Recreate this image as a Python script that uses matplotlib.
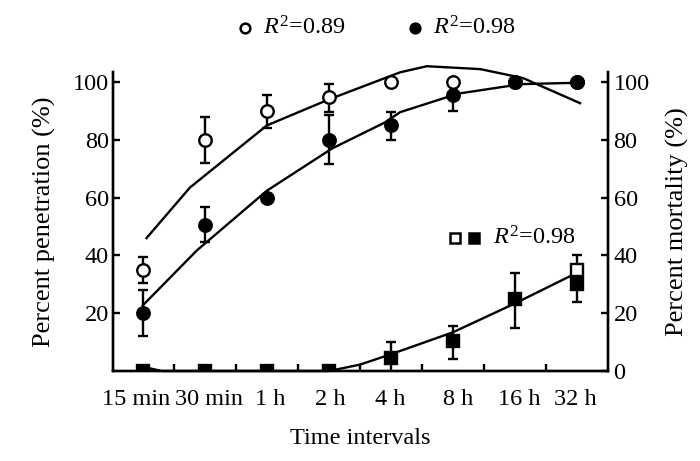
import numpy as np
import matplotlib
matplotlib.use("Agg")
import matplotlib.pyplot as plt
import matplotlib.transforms as mtransforms
from matplotlib.lines import Line2D
from matplotlib.ticker import FixedLocator

plt.rcParams['font.family'] = ['Liberation Serif', 'DejaVu Serif']
plt.rcParams['mathtext.fontset'] = 'custom'
plt.rcParams['mathtext.rm'] = 'Liberation Serif'
plt.rcParams['mathtext.it'] = 'Liberation Serif:italic'

# ---------------- data ----------------
categories = ['15 min', '30 min', '1 h', '2 h', '4 h', '8 h', '16 h', '32 h']

# open circles: percent penetration
pen_vals = [35, 80, 90, 95, 100, 100, 100, 100]
pen_err_lo = [4.7, 8, 6, 5.5, 0, 0, 0, 0]
pen_err_hi = [4.3, 8, 5.5, 4.5, 0, 0, 0, 0]

# filled circles: percent mortality
mort_vals = [20, 50.7, 60, 80, 85, 95.5, 100, 100]
mort_err_lo = [8, 6, 0, 8.5, 5, 5.5, 0, 0]
mort_err_hi = [8, 6, 0, 8.5, 4.6, 0, 0, 0]

# filled squares
sq_vals = [0, 0, 0, 0, 4.5, 10.5, 25, 30]
sq_err_lo = [0, 0, 0, 0, 5.5, 6.5, 10, 6]
sq_err_hi = [0, 0, 0, 0, 5.5, 5, 9, 0]

# open square (32 h only)
sqo_vals = [np.nan, np.nan, np.nan, np.nan, np.nan, np.nan, np.nan, 35]
sqo_err_lo = [0, 0, 0, 0, 0, 0, 0, 0]
sqo_err_hi = [0, 0, 0, 0, 0, 0, 0, 5]

# fitted curves: x in category index units
fit_pen_x = [0.06, 0.76, 2.0, 3.0, 4.15, 4.58, 5.44, 6.13, 7.05]
fit_pen_y = [46, 63.5, 85, 94, 103.4, 105.5, 104.5, 101.4, 92.7]

fit_mort_x = [0.0, 0.87, 2.0, 3.05, 3.9, 4.15, 5.08, 6.1, 7.05]
fit_mort_y = [22.7, 41.7, 62.4, 77, 86, 89.6, 96, 99.3, 99.8]

fit_sq_x = [0.0, 0.3, 3.0, 3.5, 4.0, 5.0, 6.0, 7.0]
fit_sq_y = [1.5, 0, 0, 2.2, 5.8, 13.4, 23.4, 34]

left_ticks = [20, 40, 60, 80, 100]
right_ticks = [0, 20, 40, 60, 80, 100]

# ---------------- figure ----------------
FS = 17.5
FSY = 19
fig = plt.figure(figsize=(7.0, 4.61), dpi=100)
ax = fig.add_axes([113 / 700, 90 / 461, 495 / 700, 299 / 461])
ax2 = ax.twinx()

x = np.arange(len(categories))
lw = 1.7
ms = 9

# fit lines
ax.plot(fit_pen_x, fit_pen_y, color='black', lw=lw, clip_on=False, zorder=2)
ax.plot(fit_mort_x, fit_mort_y, color='black', lw=lw, clip_on=False, zorder=2)
ax.plot(fit_sq_x, fit_sq_y, color='black', lw=lw, clip_on=False, zorder=2)

def eb(a, vals, lo, hi, marker, fc, z):
    v = np.array(vals, dtype=float)
    e = np.vstack([np.array(lo, dtype=float), np.array(hi, dtype=float)])
    a.errorbar(x, v, yerr=e, fmt=marker, color='black', mfc=fc, mec='black',
               mew=1.7, ms=ms, capsize=3.5, capthick=1.7, elinewidth=1.7,
               zorder=z)

eb(ax, pen_vals, pen_err_lo, pen_err_hi, 'o', 'white', 3)
eb(ax, mort_vals, mort_err_lo, mort_err_hi, 'o', 'black', 4)
eb(ax, sq_vals, sq_err_lo, sq_err_hi, 's', 'black', 4)
eb(ax, sqo_vals, sqo_err_lo, sqo_err_hi, 's', 'white', 5)

for a in (ax, ax2):
    a.set_xlim(-0.48, 7.5)
    a.set_ylim(0, 103.5)
    a.spines['top'].set_visible(False)
    for s in a.spines.values():
        s.set_linewidth(1.7)

ax.set_xticks(x)
ax.set_xticklabels(categories, fontsize=FS)
ax.tick_params(axis='x', which='major', length=0, pad=13)
ax.xaxis.set_minor_locator(FixedLocator(list(x[:-1] + 0.5)))
ax.tick_params(axis='x', which='minor', direction='in', length=5, width=1.7)

# nudge the labels as in the original
shifts = [-7, 4, 3, 1, -1, 5, 4, -2]
for lab, dx in zip(ax.get_xticklabels(), shifts):
    lab.set_transform(lab.get_transform() +
                      mtransforms.ScaledTranslation(dx / 100, 0, fig.dpi_scale_trans))

ax.set_yticks(left_ticks)
ax.set_yticklabels([str(t) for t in left_ticks], fontsize=FS)
ax.tick_params(axis='y', direction='in', length=5, width=1.7, pad=3)

ax2.set_yticks(right_ticks)
ax2.set_yticklabels([str(t) for t in right_ticks], fontsize=FS)
ax2.tick_params(axis='y', direction='in', length=5, width=1.7, pad=4)

ax.set_xlabel('Time intervals', fontsize=FS, labelpad=13)
ax.set_ylabel('Percent penetration (%)', fontsize=FSY, labelpad=12)
ax2.set_ylabel('Percent mortality (%)', fontsize=FSY, labelpad=12)

# top legend
ly = 1 - 28 / 461
fig.add_artist(Line2D([245 / 700], [ly], marker='o', ms=7, mfc='white',
                      mec='black', mew=1.8, ls='none', transform=fig.transFigure))
fig.text(263 / 700, ly, r'$R^2$=0.89', fontsize=FS, va='center', ha='left')
fig.add_artist(Line2D([415 / 700], [ly], marker='o', ms=7, mfc='black',
                      mec='black', mew=1.8, ls='none', transform=fig.transFigure))
fig.text(433 / 700, ly, r'$R^2$=0.98', fontsize=FS, va='center', ha='left')

# inner legend
iy = 1 - 238 / 461
fig.add_artist(Line2D([455 / 700], [iy], marker='s', ms=7, mfc='white',
                      mec='black', mew=1.8, ls='none', transform=fig.transFigure))
fig.add_artist(Line2D([474 / 700], [iy], marker='s', ms=7, mfc='black',
                      mec='black', mew=1.8, ls='none', transform=fig.transFigure))
fig.text(493 / 700, iy, r'$R^2$=0.98', fontsize=FS, va='center', ha='left')

fig.savefig('out.png', dpi=100)
